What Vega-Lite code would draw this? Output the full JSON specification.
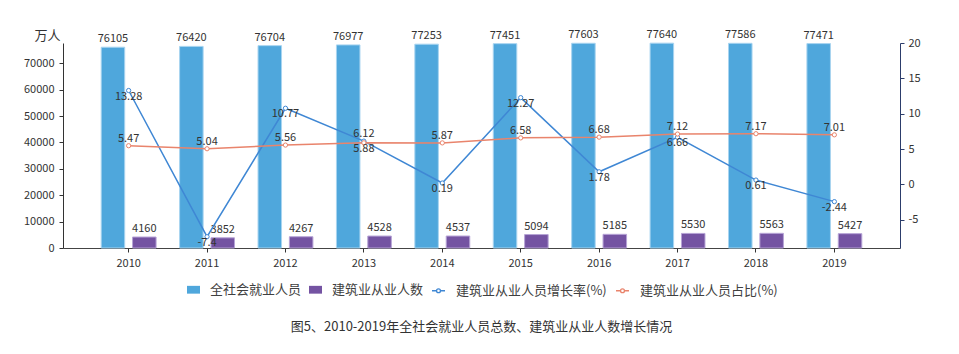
{
  "$schema": "https://vega.github.io/schema/vega-lite/v6.json",
  "width": 837,
  "height": 205,
  "autosize": {"type": "none"},
  "padding": {"left": 63, "top": 43, "right": 59, "bottom": 106},
  "background": "white",
  "config": {
    "font": "Noto Sans CJK SC",
    "view": {"stroke": null},
    "axis": {
      "grid": false,
      "domainColor": "#333333",
      "tickColor": "#333333",
      "labelColor": "#333333",
      "labelFontSize": 11,
      "labelFont": "Noto Sans CJK SC",
      "tickSize": 4,
      "labelPadding": 5
    },
    "legend": {"padding": 0, "labelFont": "Noto Sans CJK SC", "labelFontSize": 13, "labelColor": "#404040"}
  },
  "title": {
    "text": "图5、2010-2019年全社会就业人员总数、建筑业从业人数增长情况",
    "orient": "bottom",
    "anchor": "middle",
    "fontSize": 13,
    "fontWeight": "normal",
    "color": "#333333",
    "offset": 23
  },
  "data": {
    "values": [
      {"year": "2010", "total": 76105, "construction": 4160, "growth": 13.28, "share": 5.47},
      {"year": "2011", "total": 76420, "construction": 3852, "growth": -7.4, "share": 5.04},
      {"year": "2012", "total": 76704, "construction": 4267, "growth": 10.77, "share": 5.56},
      {"year": "2013", "total": 76977, "construction": 4528, "growth": 6.12, "share": 5.88},
      {"year": "2014", "total": 77253, "construction": 4537, "growth": 0.19, "share": 5.87},
      {"year": "2015", "total": 77451, "construction": 5094, "growth": 12.27, "share": 6.58},
      {"year": "2016", "total": 77603, "construction": 5185, "growth": 1.78, "share": 6.68},
      {"year": "2017", "total": 77640, "construction": 5530, "growth": 6.66, "share": 7.12},
      {"year": "2018", "total": 77586, "construction": 5563, "growth": 0.61, "share": 7.17},
      {"year": "2019", "total": 77471, "construction": 5427, "growth": -2.44, "share": 7.01}
    ]
  },
  "encoding": {
    "x": {
      "field": "year",
      "type": "ordinal",
      "scale": {"paddingInner": 0.3, "paddingOuter": 0.487},
      "axis": {"title": null, "labelAngle": 0, "domainColor": "#444444"}
    }
  },
  "layer": [
    {
      "transform": [{"fold": ["total", "construction"], "as": ["series", "value"]}],
      "encoding": {
        "xOffset": {"field": "series", "type": "nominal", "scale": {"domain": ["total", "construction"], "paddingInner": 0.25, "paddingOuter": 0}},
        "y": {
          "field": "value",
          "type": "quantitative",
          "scale": {"domain": [0, 77700], "nice": false, "zero": true},
          "axis": {
            "values": [0, 10000, 20000, 30000, 40000, 50000, 60000, 70000],
            "format": "d",
            "title": "万人",
            "titleAngle": 0,
            "titleAlign": "right",
            "titleBaseline": "middle",
            "titleX": -3,
            "titleY": -8,
            "titleFontSize": 13,
            "titleFontWeight": "normal",
            "titleColor": "#333333"
          }
        }
      },
      "layer": [
        {
          "mark": {"type": "bar", "strokeWidth": 1},
          "encoding": {
            "fill": {
              "field": "series",
              "type": "nominal",
              "scale": {"domain": ["total", "construction"], "range": ["#4fa7dc", "#7453a2"]},
              "legend": {
                "orient": "none",
                "legendX": 124,
                "legendY": 240,
                "direction": "horizontal",
                "title": null,
                "symbolType": "M-1,-0.6H1V0.6H-1Z",
                "symbolSize": 169,
                "symbolStrokeWidth": 0,
                "labelOffset": 10,
                "columnPadding": 7,
                "labelExpr": "datum.label == 'total' ? '全社会就业人员' : '建筑业从业人数'"
              }
            },
            "stroke": {
              "condition": {"test": "datum.series == 'total'", "value": "#a8d4f0"},
              "value": "#b6a3d6"
            }
          }
        },
        {
          "mark": {"type": "text", "baseline": "bottom", "dy": -3, "fontSize": 11, "color": "#333333"},
          "encoding": {"text": {"field": "value", "type": "quantitative", "format": "d"}}
        }
      ]
    },
    {
      "transform": [{"fold": ["growth", "share"], "as": ["series", "rate"]}],
      "encoding": {
        "y": {
          "field": "rate",
          "type": "quantitative",
          "scale": {"domain": [-9, 20], "nice": false, "zero": false},
          "axis": {
            "orient": "right",
            "title": null,
            "values": [-5, 0, 5, 10, 15, 20],
            "labelExpr": "toString(datum.value)",
            "domainColor": "#2c3d6b",
            "tickColor": "#2c3d6b",
            "labelPadding": 4
          }
        }
      },
      "layer": [
        {
          "mark": {"type": "line", "strokeWidth": 1.5},
          "encoding": {
            "stroke": {
              "field": "series",
              "type": "nominal",
              "scale": {"domain": ["growth", "share"], "range": ["#3f87d4", "#e9846c"]},
              "legend": {
                "orient": "none",
                "legendX": 368,
                "legendY": 240,
                "direction": "horizontal",
                "title": null,
                "symbolType": "M-1,0H-0.3M0.3,0H1M0.3,0A0.3,0.3,0,1,1,-0.3,0A0.3,0.3,0,1,1,0.3,0",
                "symbolSize": 169,
                "symbolStrokeWidth": 1.3,
                "symbolFillColor": "white",
                "labelOffset": 10,
                "columnPadding": 6,
                "labelExpr": "datum.label == 'growth' ? '建筑业从业人员增长率(%)' : '建筑业从业人员占比(%)'"
              }
            }
          }
        },
        {
          "mark": {"type": "point", "filled": false, "fill": "white", "size": 18, "strokeWidth": 1, "opacity": 1},
          "encoding": {"stroke": {"field": "series", "type": "nominal"}}
        },
        {
          "transform": [{"filter": "(datum.series == 'share' && datum.year != '2013') || (datum.series == 'growth' && datum.year == '2013')"}],
          "mark": {"type": "text", "baseline": "middle", "dy": -7, "fontSize": 11, "color": "#333333"},
          "encoding": {"text": {"field": "rate", "type": "nominal"}}
        },
        {
          "transform": [{"filter": "(datum.series == 'growth' && datum.year != '2013') || (datum.series == 'share' && datum.year == '2013')"}],
          "mark": {"type": "text", "baseline": "middle", "dy": 6, "fontSize": 11, "color": "#333333"},
          "encoding": {"text": {"field": "rate", "type": "nominal"}}
        }
      ]
    }
  ],
  "resolve": {"scale": {"y": "independent"}}
}
